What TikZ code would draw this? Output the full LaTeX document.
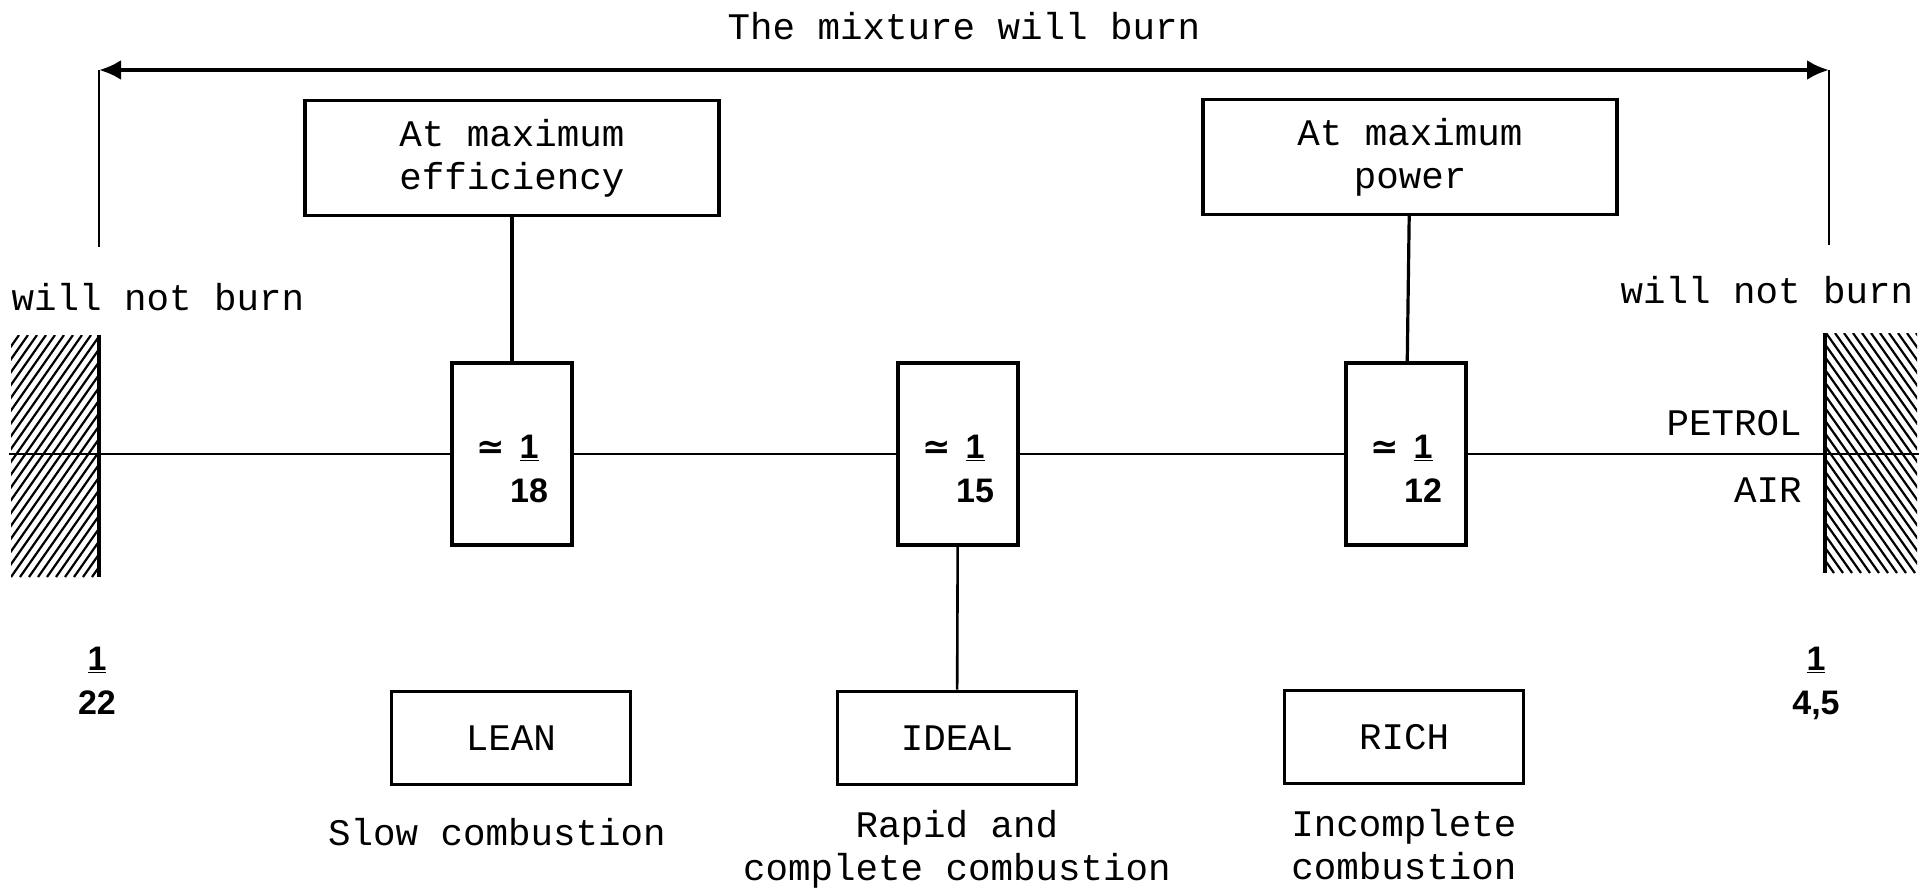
\documentclass[tikz,border=0pt]{standalone}
\usepackage{fontspec}
\newfontfamily\monofont{Liberation Mono}
\newfontfamily\fracfont{Liberation Sans}
\newfontfamily\symfont{DejaVu Sans}
\usetikzlibrary{arrows.meta,positioning}
\newcommand{\ratio}[2]{\begin{tabular}[t]{@{}c@{}}\underline{#1}\\#2\end{tabular}}

\tikzset{
  typed/.style={font=\monofont\fontsize{18.75}{21.5}\selectfont, align=center, inner sep=0pt},
  frac/.style={font=\fracfont\bfseries\fontsize{17}{22}\selectfont, inner sep=0pt},
  topbox/.style={typed, draw, line width=1.7pt, fill=white, minimum width=207pt, minimum height=57.5pt},
  ratiobox/.style={frac, draw, line width=1.7pt, fill=white, minimum width=60pt, minimum height=91pt, text height=4pt, text depth=0pt},
  mixbox/.style={typed, draw, line width=1.8pt, minimum width=119.5pt, minimum height=46.5pt},
  hatch/.style={line width=1.1pt},
  wall/.style={line width=1.6pt}
}

\begin{document}
\begin{tikzpicture}[x=0.5pt,y=-0.5pt,>={Latex[length=11pt,width=10pt]}]
\useasboundingbox (0,0) rectangle (1929,891);

% hatched walls
\begin{scope}
  \clip (11,335) rectangle (99,577);
  \foreach \k in {-160,-151,...,99}
    \draw[hatch] (\k,577) -- ++(170,-242);
\end{scope}
\begin{scope}
  \clip (1825,333) rectangle (1917,573);
  \foreach \k in {1655,1664,...,1917}
    \draw[hatch] (\k,333) -- ++(170,240);
\end{scope}
\draw[wall] (99,335) -- (99,577);
\draw[wall] (1825,333) -- (1825,573);

% burn range
\coordinate (lt) at (99,70);
\coordinate (lb) at (99,247);
\coordinate (rt) at (1829,70);
\coordinate (rb) at (1829,245);
\draw[line width=2pt,<->] (lt) -- node[typed, midway, above=14pt] (burn) {The mixture will burn} (rt);
\draw[line width=1pt] (lt) -- (lb);
\draw[line width=1pt] (rt) -- (rb);

\node[typed] (nol) at (158,297) {will not burn};
\node[typed] (nor) at (1767,290) {will not burn};

% mixture ratios
\coordinate (lend) at (9,454);
\coordinate (rend) at (1919,454);
\node[ratiobox] (r18) at (512,454) {{\symfont≃}\,\ratio{1}{18}};
\node[ratiobox] (r15) at (958,454) {{\symfont≃}\,\ratio{1}{15}};
\node[ratiobox] (r12) at (1406,454) {{\symfont≃}\,\ratio{1}{12}};
\draw[line width=1.3pt] (lend) -- (r18) -- (r15) -- (r12) -- (rend);

\node[typed, anchor=east] (petrol) at (1802,423) {PETROL};
\node[typed, anchor=east] (air) at (1802,490) {AIR};

\node[frac, text height=0pt, text depth=0pt] (lim1) at (97,670) {\ratio{1}{22}};
\node[frac, text height=0pt, text depth=0pt] (lim2) at (1816,670) {\ratio{1}{4,5}};

% top boxes
\node[topbox] (eff) at (512,158) {At maximum\\efficiency};
\node[topbox] (pow) at (1410,157) {At maximum\\power};
\draw[line width=1.6pt] (eff) -- (r18);
\draw[line width=1.6pt] (pow) -- (r12);

% mixture kinds
\node[mixbox] (lean) at (511,738) {LEAN};
\node[mixbox] (ideal) at (957,738) {IDEAL};
\node[mixbox] (rich) at (1404,737) {RICH};
\draw[line width=1.3pt] (r15) -- (ideal);

\node[typed, below=16pt of lean, xshift=-7pt] (slow) {Slow combustion};
\node[typed, below=12pt of ideal] (rapid) {Rapid and\\complete combustion};
\node[typed, below=12pt of rich] (incomp) {Incomplete\\combustion};
\end{tikzpicture}
\end{document}
